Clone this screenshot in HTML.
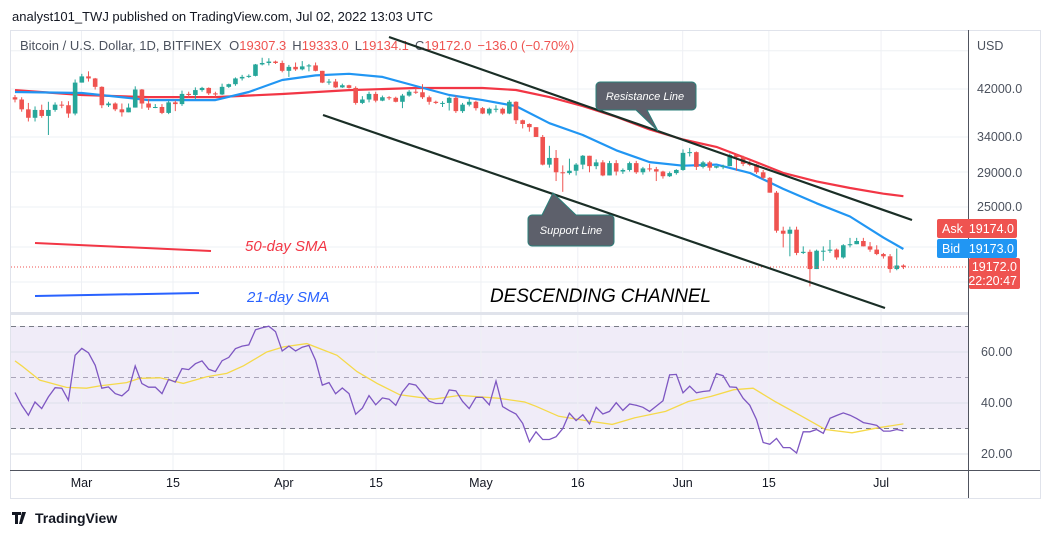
<!DOCTYPE html>
<html><head><meta charset="utf-8"><style>
html,body{margin:0;padding:0;background:#fff;}
svg{display:block;font-family:"Liberation Sans",sans-serif;}
</style></head><body>
<svg id="chart" width="1048" height="536" viewBox="0 0 1048 536">
  <text x="12" y="21" font-size="13" fill="#131722">analyst101_TWJ published on TradingView.com, Jul 02, 2022 13:03 UTC</text>
  <rect x="10.5" y="30.5" width="1030" height="468" fill="#fff" stroke="#e0e3eb"/>
  <rect x="11" y="326" width="957" height="103" fill="#f0ecf8"/>
  <g id="grid"></g>
  <g id="pricePane"></g>
  <g id="rsiPane"></g>
  <line x1="968.5" y1="30" x2="968.5" y2="498" stroke="#50535e"/>
  <line x1="10" y1="470.5" x2="1040" y2="470.5" stroke="#50535e"/>
  <line x1="10" y1="313.5" x2="968" y2="313.5" stroke="#e0e3eb" stroke-width="3"/>
  <g id="axes" font-size="12.5" fill="#4c525e"></g>
  <g font-size="13">
    <text x="20" y="50" fill="#4c525e">Bitcoin / U.S. Dollar, 1D, BITFINEX <tspan dx="4">O</tspan><tspan fill="#ef5350">19307.3</tspan><tspan dx="6">H</tspan><tspan fill="#ef5350">19333.0</tspan><tspan dx="6">L</tspan><tspan fill="#ef5350">19134.1</tspan><tspan dx="6">C</tspan><tspan fill="#ef5350">19172.0</tspan><tspan dx="6" fill="#ef5350">−136.0 (−0.70%)</tspan></text>
  </g>
  <text x="977" y="50" font-size="12.5" fill="#4c525e">USD</text>
  <g>
    <rect x="937" y="219" width="80" height="19" rx="2" fill="#ef5350"/>
    <text x="942" y="233" font-size="12.5" fill="#fff">Ask</text>
    <text x="1014" y="233" font-size="12.5" fill="#fff" text-anchor="end">19174.0</text>
  </g>
  <g>
    <rect x="937" y="239" width="80" height="19" rx="2" fill="#2196f3"/>
    <text x="942" y="253" font-size="12.5" fill="#fff">Bid</text>
    <text x="1014" y="253" font-size="12.5" fill="#fff" text-anchor="end">19173.0</text>
  </g>
  <g>
    <rect x="969" y="258" width="51" height="31" rx="2" fill="#ef5350"/>
    <text x="1017" y="271" font-size="12.5" fill="#fff" text-anchor="end">19172.0</text>
    <text x="1017" y="285" font-size="12.5" fill="#fff" text-anchor="end">22:20:47</text>
  </g>
  <g>
    <line x1="389" y1="37" x2="912" y2="220" stroke="#1a2e26" stroke-width="2.2"/>
    <line x1="323" y1="115" x2="885" y2="308" stroke="#1a2e26" stroke-width="2.2"/>
    <line x1="35" y1="243" x2="211" y2="251" stroke="#f23645" stroke-width="2"/>
    <text x="245" y="251" font-size="15" font-style="italic" fill="#f23645">50-day SMA</text>
    <line x1="35" y1="296" x2="199" y2="293" stroke="#2962ff" stroke-width="2"/>
    <text x="247" y="302" font-size="15" font-style="italic" fill="#2962ff">21-day SMA</text>
    <text x="490" y="302" font-size="19" font-style="italic" fill="#000" textLength="221">DESCENDING CHANNEL</text>
    <g>
      <path d="M600,82 h92 a4,4 0 0 1 4,4 v20 a4,4 0 0 1 -4,4 h-45 l11,21 l-22,-21 h-36 a4,4 0 0 1 -4,-4 v-20 a4,4 0 0 1 4,-4z" fill="#5d606b" stroke="#2a7f7a"/>
      <text x="645" y="100" font-size="11" font-style="italic" fill="#fff" text-anchor="middle">Resistance Line</text>
    </g>
    <g>
      <path d="M532,215 h10 l11,-22 l23,22 h34 a4,4 0 0 1 4,4 v23 a4,4 0 0 1 -4,4 h-78 a4,4 0 0 1 -4,-4 v-23 a4,4 0 0 1 4,-4z" fill="#5d606b" stroke="#2a7f7a"/>
      <text x="571" y="234" font-size="11" font-style="italic" fill="#fff" text-anchor="middle">Support Line</text>
    </g>
  </g>
  <g>
    <path d="M12,512 h9 v3 h-3 v9 h-3 v-9 h-3z M22,512 h4 l-4,12 h-3z" fill="#131722"/>
    <text x="35" y="523" font-size="14" font-weight="bold" fill="#131722">TradingView</text>
  </g>
</svg>
<script>
// ---- data (thousands USD), day 0 = Feb 19 2022 ----
const closes=[40.1,38.4,37.0,38.3,37.3,38.3,39.2,39.1,37.7,43.2,
44.4,44.0,42.4,39.1,39.4,38.4,37.9,38.7,41.9,39.4,38.7,38.8,37.8,39.6,39.3,41.1,40.9,41.8,42.2,41.2,41.0,42.4,42.9,44.0,44.3,44.5,46.8,47.1,47.4,47.1,45.5,
46.3,45.8,46.4,46.6,45.5,43.2,43.4,42.3,42.7,42.2,39.5,40.1,41.1,39.9,40.5,40.4,39.7,40.8,41.5,41.4,40.5,39.7,39.5,39.5,40.4,38.1,39.2,39.7,38.6,37.7,
38.5,38.5,37.7,39.7,36.6,36.0,35.5,34.0,30.1,31.0,29.1,29.0,29.3,30.1,31.3,29.9,30.4,28.7,30.3,29.2,29.4,30.3,29.1,29.6,29.5,29.2,28.6,29.0,29.4,31.7,31.8,
29.8,30.4,29.7,29.9,29.9,31.4,31.1,30.2,30.1,29.1,28.4,26.6,22.5,22.2,22.6,20.4,20.5,19.0,20.6,20.6,20.7,20.0,21.1,21.2,21.5,21.0,20.7,20.3,20.1,19.0,
19.3,19.17];
const highs=[40.9,40.5,39.5,38.9,39.2,39.7,39.6,39.8,39.8,43.8,
44.9,45.4,44.1,42.5,39.7,39.6,39.4,39.4,42.5,42.0,40.2,39.3,39.3,39.9,39.9,41.7,41.5,42.3,42.4,42.3,41.5,43.0,43.0,44.2,44.7,44.8,46.9,48.2,48.1,47.6,47.6,
46.7,47.2,47.5,46.9,47.2,45.5,43.9,43.9,43.0,42.8,42.5,40.7,41.5,41.5,40.8,40.7,40.6,41.1,41.8,42.2,42.9,40.8,39.9,39.8,40.6,40.8,39.5,40.4,39.9,38.8,
38.7,39.1,38.7,40.0,39.8,36.7,36.1,35.5,34.3,32.7,32.1,30.0,30.9,30.3,31.4,31.3,30.8,30.7,30.6,30.7,29.6,30.5,30.6,29.8,30.2,29.8,29.3,29.2,29.5,32.2,32.4,
31.9,30.6,30.6,29.9,30.1,31.6,31.5,31.3,30.6,30.2,29.4,28.5,26.8,22.9,22.9,22.9,21.0,20.7,20.7,21.0,21.6,20.8,21.2,21.8,21.8,21.8,21.4,21.1,20.4,20.3,
20.8,19.4];
const lows=[39.6,38.0,36.4,36.4,37.0,34.3,38.0,38.6,37.0,37.4,
43.3,43.4,41.9,38.6,38.8,38.1,37.2,37.9,38.7,38.5,38.3,38.6,37.6,37.6,38.1,39.0,40.4,40.2,41.5,40.9,40.5,40.9,42.2,42.6,43.6,44.1,44.4,46.6,46.6,46.9,45.2,
44.3,45.5,45.6,45.4,45.4,43.1,42.8,42.2,42.2,42.1,39.2,39.3,39.6,39.6,39.8,40.0,39.6,38.6,40.6,41.1,40.2,39.2,39.3,38.8,38.2,37.8,37.8,38.9,38.2,37.6,
37.4,37.9,37.5,37.6,36.0,35.3,34.8,34.6,30.0,29.7,28.0,26.7,28.8,28.7,29.5,29.1,29.5,28.6,28.7,28.7,28.9,29.2,28.9,28.8,29.2,28.0,28.3,28.5,28.8,29.3,31.2,
29.4,29.6,29.3,29.6,29.5,29.9,29.3,29.9,29.9,28.9,28.2,26.6,22.3,20.9,20.1,20.2,20.3,17.6,19.0,19.7,20.4,19.8,19.9,20.9,21.2,21.0,20.5,20.2,19.9,18.7,
18.9,19.0];
const smaDays=[0,10,20,30,35,40,45,50,55,60,65,70,75,80,85,90,95,100,105,110,115,120,125,130,133];
const sma21=[41.45,41.27,40.0,40.0,41.45,43.7,44.6,44.9,44.3,42.56,40.9,40.0,38.95,36.13,34.3,32.06,30.43,29.96,30.1,29.02,27.05,25.39,23.95,21.82,20.76];
const sma50Days=[0,10,20,30,40,50,60,70,75,80,85,90,95,100,105,110,115,120,125,130,133];
const sma50=[41.8,40.9,40.53,40.53,41.08,41.8,42.19,42.19,41.82,40.53,38.95,37.16,35.14,33.62,32.54,30.78,29.02,27.96,27.16,26.48,26.19];
const rsi=[44.1,39.1,35.2,40.4,37.8,42.4,46.0,45.8,41.1,58.7,61.4,59.7,54.8,45.8,46.3,43.7,42.8,45.1,54.5,47.6,46.2,46.2,43.7,49.3,48.2,53.5,53.1,55.4,56.5,53.2,52.3,56.6,57.9,61.3,62.3,62.8,68.7,69.5,70.1,68,60.4,62.3,60.4,61.9,62.6,56.7,47,48,43.6,45.9,43.7,35.6,38,42.9,39.3,42,41.5,39.1,44.3,47.6,47,43.8,40.7,39.8,39.8,45.1,
44.8,40.6,37.8,42.2,42.2,39.3,48.6,38.6,37.0,35.7,32.0,24.8,28.7,25.7,25.7,26.8,30.0,36.0,33.1,35.4,31.8,38.3,35.7,36.7,40.1,37.1,39.6,39.1,38.3,36.7,38.8,40.9,51.0,51.2,44.0,46.6,44.0,44.5,44.8,51.5,50.7,46.3,46.1,41.9,39.1,33.5,24.5,23.8,26.1,22.5,22.5,20.4,28.7,28.7,29.6,28.1,34.0,35.1,36.1,35.2,33.9,32.3,31.8,31.2,29.0,29.0,29.6,29.1];
const sigDays=[0,1,3.7,7.7,10.7,12.7,16.7,18.7,21.7,25.2,28.7,31.7,34.2,37.7,40.2,43.7,48.2,51.2,54.2,57.6,62.6,66.6,72.3,76.3,78,81.4,85.5,89.4,92.8,97.4,100.8,104.2,107.6,110.5,113.9,117.8,121.3,125.3,129.3,133];
const sigVals=[56.5,54.6,49.0,46.1,45.8,46.7,48.0,49.7,49.9,47.7,50.3,51.6,54.6,60.0,62.0,63.3,58.7,52.3,47.7,43.2,41.5,43.0,41.9,40.4,38.7,34.8,33.1,31.6,34.2,36.7,40.6,42.6,45.2,45.8,40.4,34.8,29.6,28.3,30.3,31.8];
const priceTicks=[42000,34000,29000,25000];
const rsiTicks=[60,40,20];
const timeLabels=["Mar","15","Apr","15","May","16","Jun","15","Jul"];
const timeLabelDays=[10.7,24.4,41,54.8,70.5,85,100.7,113.6,130.4];
const lastPrice=19.172;

// ---- scales ----
const NS='http://www.w3.org/2000/svg';
const xs=d=>15+d*6.68;
const LN42=Math.log(42);
const ys=p=>89+(LN42-Math.log(p))*227;
const yr=v=>454-(v-20)*2.55;
function mk(tag,attrs,parent){const e=document.createElementNS(NS,tag);for(const k in attrs)e.setAttribute(k,attrs[k]);parent.appendChild(e);return e;}

const grid=document.getElementById('grid');
const pp=document.getElementById('pricePane');
const rp=document.getElementById('rsiPane');
const axes=document.getElementById('axes');

[50.7,89,137,172,207,247,282].forEach(y=>{const l=mk('line',{x1:11,x2:968,y1:y,y2:y,stroke:'#eef0f4'},grid);

});
[352,403,454].forEach(y=>{const l=mk('line',{x1:11,x2:968,y1:y,y2:y,stroke:'#dde1ea'},grid);

});
timeLabelDays.forEach(d=>{const x=xs(d)-5;const l=mk('line',{x1:x,x2:x,y1:31,y2:470,stroke:'#eef0f4'},grid);

});
[70,50,30].forEach(v=>{const l=mk('line',{x1:11,x2:968,y1:yr(v),y2:yr(v),stroke:v==50?'#a9a4b8':'#787b86','stroke-dasharray':'5,4'},grid);

});

const defs=mk('defs',{},document.getElementById('chart'));
const cp=mk('clipPath',{id:'pc'},defs);mk('rect',{x:11,y:31,width:957,height:281},cp);
const cr=mk('clipPath',{id:'rc'},defs);mk('rect',{x:11,y:315,width:957,height:155},cr);
pp.setAttribute('clip-path','url(#pc)');rp.setAttribute('clip-path','url(#rc)');

function polyPts(days,vals,yf){return days.map((d,i)=>xs(d).toFixed(1)+','+yf(vals[i]).toFixed(1)).join(' ');}
const s50=mk('polyline',{points:polyPts(sma50Days,sma50,ys),fill:'none',stroke:'#f23645','stroke-width':2.2,'stroke-linejoin':'round'},pp);


const s21=mk('polyline',{points:polyPts(smaDays,sma21,ys),fill:'none',stroke:'#2196f3','stroke-width':2.2,'stroke-linejoin':'round'},pp);



closes.forEach((c,i)=>{
  const o=i>0?closes[i-1]:c*1.01;
  const h=Math.max(highs[i],o,c), l=Math.min(lows[i],o,c);
  const up=c>=o, col=up?'#26a69a':'#ef5350';
  const x=xs(i);
  const g=mk('g',{},pp);
  
  
  mk('line',{x1:x,x2:x,y1:ys(h),y2:ys(l),stroke:col,'stroke-width':1},g);
  const yt=ys(Math.max(o,c)), yb=ys(Math.min(o,c));
  mk('rect',{x:x-2.3,y:yt,width:4.6,height:Math.max(1,yb-yt),fill:col},g);
});

const lp=mk('line',{x1:11,x2:968,y1:ys(lastPrice),y2:ys(lastPrice),stroke:'#ef5350','stroke-dasharray':'1,2'},pp);



const sig=mk('polyline',{points:polyPts(sigDays,sigVals,yr),fill:'none',stroke:'#f5d94a','stroke-width':1.3},rp);


const rl=mk('polyline',{points:polyPts(rsi.map((_,i)=>i),rsi,yr),fill:'none',stroke:'#7e57c2','stroke-width':1.3},rp);



priceTicks.forEach(p=>{const t=mk('text',{x:977,y:ys(p/1000)+4},axes);t.textContent=p.toFixed(1);

});
rsiTicks.forEach(v=>{const t=mk('text',{x:981,y:yr(v)+4},axes);t.textContent=v.toFixed(2);

});
timeLabels.forEach((s,i)=>{const t=mk('text',{x:xs(timeLabelDays[i])-5,y:487,'text-anchor':'middle',fill:'#131722'},axes);t.textContent=s;

});
</script>
</body></html>
